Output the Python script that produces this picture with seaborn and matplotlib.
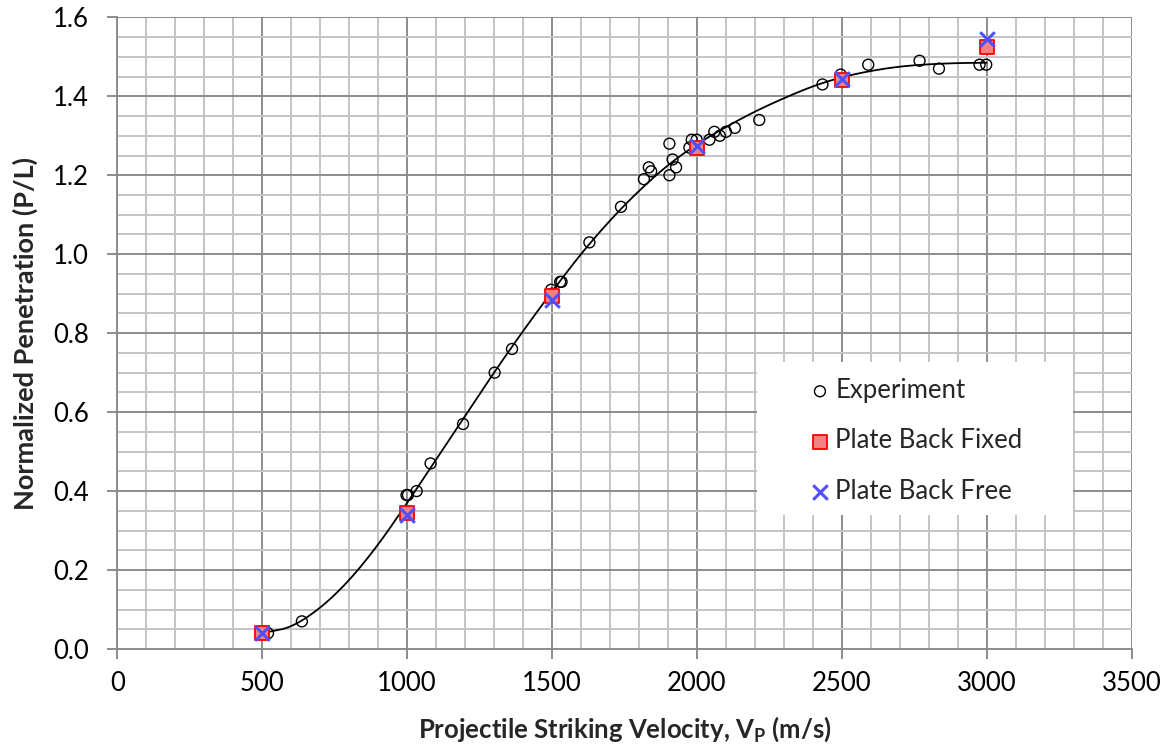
import matplotlib
matplotlib.use("Agg")
import matplotlib.pyplot as plt
import seaborn as sns
import numpy as np
import pandas as pd
from matplotlib.ticker import MultipleLocator
from matplotlib.patches import Rectangle

# ---------------- data ----------------
exp_v = [520, 637, 998, 1003, 1033, 1081, 1193, 1302, 1362, 1497, 1500, 1528, 1533,
         1629, 1738, 1817, 1834, 1842, 1905, 1905, 1916, 1928, 1974, 1982, 1999,
         2043, 2060, 2079, 2100, 2131, 2215, 2433, 2496, 2502, 2591, 2768, 2835,
         2975, 2998]
exp_p = [0.04, 0.07, 0.39, 0.39, 0.40, 0.47, 0.57, 0.70, 0.76, 0.91, 0.90, 0.93, 0.93,
         1.03, 1.12, 1.19, 1.22, 1.21, 1.28, 1.20, 1.24, 1.22, 1.27, 1.29, 1.29,
         1.29, 1.31, 1.30, 1.31, 1.32, 1.34, 1.43, 1.455, 1.44, 1.48, 1.49, 1.47,
         1.48, 1.48]

sim_v = [500, 1000, 1500, 2000, 2500, 3000]
fixed_p = [0.04, 0.345, 0.895, 1.27, 1.44, 1.525]
free_p = [0.04, 0.34, 0.885, 1.275, 1.445, 1.545]

curve_v = [500, 600, 700, 800, 900, 1000, 1100, 1200, 1300, 1400, 1500, 1600, 1700,
           1800, 1900, 2000, 2100, 2200, 2300, 2400, 2500, 2600, 2700, 2800, 2900, 3000]
curve_p = [0.04, 0.058, 0.105, 0.175, 0.265, 0.37, 0.48, 0.59, 0.70, 0.805, 0.905,
           1.00, 1.085, 1.16, 1.225, 1.278, 1.322, 1.361, 1.395, 1.425, 1.448, 1.464,
           1.475, 1.481, 1.484, 1.485]

x_ticks = [0, 500, 1000, 1500, 2000, 2500, 3000, 3500]
y_ticks = [0.0, 0.2, 0.4, 0.6, 0.8, 1.0, 1.2, 1.4, 1.6]


def smooth_through(xs, ys, n=20):
    """Catmull-Rom rendering of a line through the read points."""
    xs = np.asarray(xs, float)
    ys = np.asarray(ys, float)
    px = np.concatenate([[2 * xs[0] - xs[1]], xs, [2 * xs[-1] - xs[-2]]])
    py = np.concatenate([[2 * ys[0] - ys[1]], ys, [2 * ys[-1] - ys[-2]]])
    ox, oy = [], []
    t = np.linspace(0, 1, n, endpoint=False)
    for i in range(1, len(px) - 2):
        for arr, out in ((px, ox), (py, oy)):
            p0, p1, p2, p3 = arr[i - 1], arr[i], arr[i + 1], arr[i + 2]
            out.extend(0.5 * ((2 * p1) + (-p0 + p2) * t
                              + (2 * p0 - 5 * p1 + 4 * p2 - p3) * t ** 2
                              + (-p0 + 3 * p1 - 3 * p2 + p3) * t ** 3))
    ox.append(xs[-1])
    oy.append(ys[-1])
    return np.array(ox), np.array(oy)


# ---------------- style ----------------
sns.set_theme(style="white")
plt.rcParams['font.family'] = ['Lato', 'DejaVu Sans']
plt.rcParams['mathtext.fontset'] = 'custom'
plt.rcParams['mathtext.rm'] = 'Lato'
plt.rcParams['mathtext.bf'] = 'Lato:bold'

FS = 18.5

fig = plt.figure(figsize=(11.69, 7.47), dpi=100)
ax = fig.add_axes([0.1003, 0.1312, 0.8678, 0.8456])

sx, sy = smooth_through(curve_v, curve_p)
df_exp = pd.DataFrame({"v": exp_v, "p": exp_p})
df_sim = pd.DataFrame({"v": sim_v, "fixed": fixed_p, "free": free_p})
df_curve = pd.DataFrame({"v": sx, "p": sy})

sns.lineplot(data=df_curve, x="v", y="p", ax=ax, color="black", linewidth=1.3,
             zorder=3, legend=False, sort=False)
sns.scatterplot(data=df_exp, x="v", y="p", ax=ax, marker="o", s=62,
                facecolor="none", edgecolor="black", linewidth=1.0, zorder=4,
                label="Experiment")
sns.scatterplot(data=df_sim, x="v", y="fixed", ax=ax, marker="s", s=95,
                color="#f58282", edgecolor="#ff0000", linewidth=1.3, zorder=5,
                label="Plate Back Fixed")
sns.scatterplot(data=df_sim, x="v", y="free", ax=ax, marker="x", s=110,
                color="#5050ff", linewidth=2.2, zorder=6,
                label="Plate Back Free")

ax.set_xlim(0, 3500)
ax.set_ylim(0, 1.6)
ax.set_xticks(x_ticks)
ax.set_yticks(y_ticks)
ax.set_xticklabels([str(t) for t in x_ticks])
ax.set_yticklabels([f"{t:.1f}" for t in y_ticks])
ax.xaxis.set_minor_locator(MultipleLocator(100))
ax.yaxis.set_minor_locator(MultipleLocator(0.05))

ax.grid(which="minor", color="#c4c4c4", linewidth=1.4, zorder=0)
ax.grid(which="major", color="#8c8c8c", linewidth=1.4, zorder=1)
ax.set_axisbelow(True)
for side in ["top", "right"]:
    ax.spines[side].set_visible(False)
for side in ["left", "bottom"]:
    ax.spines[side].set_color("#8c8c8c")
    ax.spines[side].set_linewidth(1.4)

ax.tick_params(axis="both", which="major", direction="out", length=7, width=1.4,
               color="#8c8c8c", labelsize=FS, labelcolor="black",
               left=True, bottom=True)
ax.tick_params(axis="x", which="major", pad=9)
ax.tick_params(axis="y", which="major", pad=13.5)
ax.tick_params(axis="both", which="minor", length=0)

ax.set_xlabel(r"Projectile Striking Velocity, V$_{\mathbf{P}}$ (m/s)",
              fontsize=FS, fontweight="bold", labelpad=13)
ax.set_ylabel("Normalized Penetration (P/L)", fontsize=19.5, fontweight="bold",
              labelpad=11)

# white legend panel
ax.add_patch(Rectangle((0.6306, 0.2121), 0.3114, 0.2422, transform=ax.transAxes,
                       facecolor="white", edgecolor="none", zorder=8))
leg = ax.legend(loc="upper left", bbox_to_anchor=(0.680, 0.429),
                fontsize=FS, frameon=False, borderpad=0, labelspacing=0.99,
                handletextpad=0.1, handlelength=1.0, borderaxespad=0)
leg.set_zorder(10)

fig.savefig("out.png", dpi=100)
